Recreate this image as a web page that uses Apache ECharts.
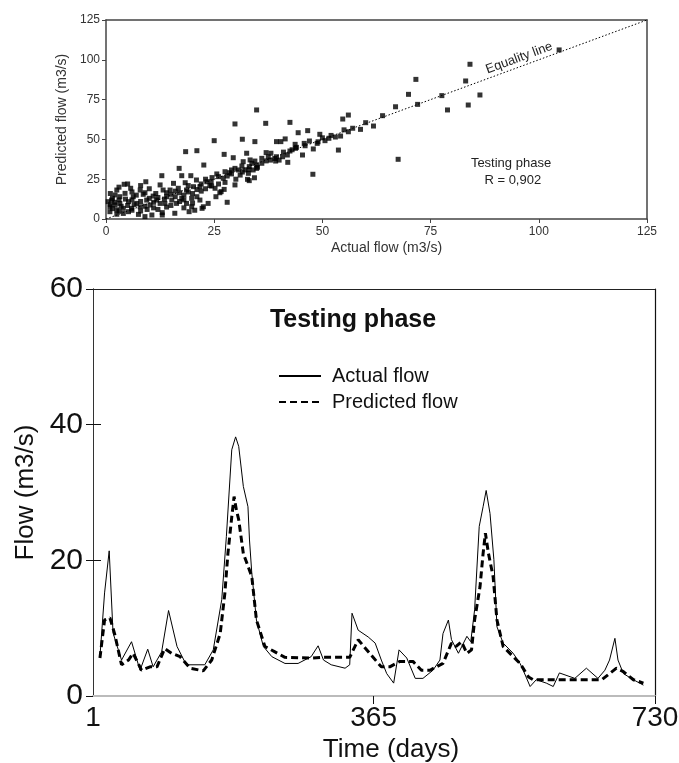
<!DOCTYPE html>
<html><head><meta charset="utf-8">
<script src="https://cdn.jsdelivr.net/npm/echarts@6/dist/echarts.min.js"></script>
<style>html,body{margin:0;padding:0;background:#fff}#c{width:679px;height:763px}</style>
</head><body><div id="c"></div>
<script>
// ---- Scatter: actual (x) vs predicted (y), m3/s ----
const scatterPoints = [
 [104.7,106.2],[84.1,97.2],[83.1,86.7],[71.6,87.7],[69.9,78.3],[77.6,77.5],[86.4,77.9],[72.0,72.0],
 [66.9,70.5],[83.7,71.6],[78.9,68.5],[63.9,64.9],[61.8,58.4],[58.8,56.3],[56.0,65.3],[54.7,62.8],
 [56.0,54.8],[54.2,52.1],[53.7,43.3],[67.5,37.5],[34.8,68.5],[29.8,59.7],[36.9,60.1],[42.5,60.7],
 [18.4,42.3],[21.0,42.9],[25.0,49.2],[31.5,50.1],[34.4,48.6],[39.4,48.6],[40.4,48.6],[41.4,50.3],
 [44.4,54.2],[46.6,55.5],[49.4,53.2],[51.5,50.7],[50.6,49.2],[48.8,47.5],[45.8,47.5],[43.7,46.9],
 [47.9,44.0],[47.8,28.1],[43.8,44.4],[42.5,42.7],[45.4,40.2],[41.9,40.2],[40.8,39.1],[39.4,39.1],
 [38.1,41.3],[37.0,41.7],[42.0,35.6],[39.2,36.4],[37.5,39.1],[36.0,38.1],[34.4,36.4],[33.3,37.1],
 [32.5,41.3],[27.3,40.6],[29.4,38.5],[31.7,36.0],[33.7,35.0],[34.8,33.9],[33.1,32.9],[31.4,33.3],
 [29.8,31.8],[30.6,30.8],[29.0,30.8],[32.1,30.8],[28.5,29.1],[27.5,29.7],[27.1,25.6],[26.0,26.6],
 [25.6,28.3],[29.0,28.3],[31.0,27.6],[32.9,28.7],[34.8,31.8],[34.0,30.8],[34.3,25.9],[32.7,24.9],
 [33.1,24.1],[29.8,21.4],[27.3,18.6],[25.2,19.3],[24.3,23.4],[26.6,17.2],[25.4,14.0],[28.0,10.5],
 [26.3,16.5],[23.6,9.8],[22.2,6.7],[22.6,33.9],[16.9,31.8],[12.9,27.2],[9.2,23.4],[4.2,21.8],
 [17.5,27.2],[19.6,27.2],[19.2,4.6],[15.9,3.6],[13.0,4.0],[10.6,2.5],[7.5,2.9],
 [23.3,23.4],[20.9,24.5],[21.7,20.3],[18.3,22.8],[15.6,22.4],[12.5,21.4],[7.9,18.2],[5.7,19.3],
 [2.5,18.2],[2.1,15.1],[3.2,14.0],[4.4,16.1],[6.3,14.0],[8.6,15.5],[10.9,14.4],[13.2,18.2],
 [14.8,18.2],[16.7,19.3],[18.6,18.2],[20.2,20.3],[24.4,20.7],[21.7,11.9],[19.8,13.0],[17.5,13.0],
 [15.2,11.9],[14.0,14.0],[11.7,11.9],[9.4,11.9],[7.1,9.8],[5.2,10.9],[3.2,9.8],[1.3,11.9],
 [0.9,7.7],[2.1,8.8],[4.0,6.7],[5.9,6.7],[7.9,7.7],[10.2,8.8],[12.5,9.8],[13.6,9.8],
 [16.3,9.8],[18.6,9.8],[19.8,7.7],[22.5,7.7],[0.9,4.6],[2.5,5.7],[5.2,4.6],[0.5,10.9],
 [1.5,13.0],[3.0,12.0],[4.5,12.5],[6.0,12.0],[7.0,15.0],[9.0,16.5],[10.0,13.0],[11.0,10.5],
 [12.0,13.5],[13.5,12.5],[15.0,15.5],[16.0,14.0],[17.0,16.5],[18.0,15.0],[19.0,17.0],[20.0,16.0],
 [21.0,18.5],[22.0,17.5],[23.0,19.0],[24.0,21.0],[1.0,9.0],[2.0,10.5],[3.5,8.0],[5.0,8.5],
 [6.5,9.0],[8.0,11.0],[9.0,8.0],[11.0,7.0],[12.0,6.0],[14.0,7.5],[15.0,8.5],[17.0,11.0],
 [18.0,12.0],[20.0,10.0],[21.0,14.0],[3.0,5.0],[4.0,3.5],[6.0,5.5],[8.0,5.0],[9.5,6.0],
 [1.5,6.5],[2.5,3.0],[14.0,16.5],[16.0,17.5],[11.5,16.0],[10.0,19.0],[6.0,17.0],[3.0,20.0],
 [5.0,22.0],[8.0,21.0],[1.0,16.0],[19.0,21.0],[22.0,22.0],[23.0,25.0],[24.5,26.0],[26.0,22.0],
 [27.5,23.0],[28.0,27.0],[30.0,25.0],[31.5,29.5],[33.0,31.0],[35.0,32.5],[36.0,35.0],[37.0,36.5],
 [38.0,37.0],[39.0,38.0],[40.0,37.0],[41.0,42.0],[43.0,43.5],[44.0,45.0],[46.0,46.0],[47.0,49.0],
 [49.0,48.5],[50.0,51.0],[52.0,52.5],[53.0,51.5],[55.0,56.0],[57.0,57.0],[60.0,60.5],[20.5,5.5],
 [18.0,7.0],[13.0,2.5],[9.0,1.5]
];
const equalityLine = [0, 125];
const scatterTicks = [0, 25, 50, 75, 100, 125];

// ---- Time series (testing phase) ----
const actualDays = [10,16,22,27,38,51,62,72,79,90,99,110,122,146,157,168,174,181,186,190,196,202,204,207,213,222,233,250,267,284,293,300,310,328,334,337,345,358,367,375,382,391,398,408,419,429,442,451,455,462,466,475,486,491,496,502,507,511,516,521,525,533,546,555,559,568,576,589,598,606,626,641,656,665,671,678,682,689,702,715];
const actualFlow = [5.8,15.2,21.4,9.3,5.3,8.0,3.8,6.9,4.3,6.5,12.6,7.3,4.6,4.6,6.8,14.2,23.5,36.3,38.2,36.8,30.9,27.9,23.0,18.1,11.2,7.3,5.8,4.8,4.8,5.8,7.4,5.3,4.6,4.1,4.6,12.2,9.7,8.7,7.8,5.3,3.3,1.9,6.8,5.6,2.6,2.6,3.8,5.3,9.2,11.2,8.3,6.3,8.8,8.0,12.7,25.0,27.9,30.3,26.9,20.1,10.2,7.8,6.3,4.8,3.8,1.4,2.4,1.9,1.4,3.4,2.6,4.1,2.6,3.8,5.3,8.5,5.3,3.3,2.4,1.6];
const predictedDays = [10,16,23,29,38,47,53,64,75,84,94,103,114,127,144,155,166,172,176,181,184,187,190,196,207,213,224,237,250,284,297,334,345,362,375,386,399,416,427,438,455,466,472,479,486,492,496,503,507,510,514,520,525,533,546,555,566,572,598,611,661,671,680,689,702,715];
const predictedFlow = [5.6,11.2,11.5,9.2,4.6,5.3,6.3,3.8,4.3,4.3,7.0,6.3,5.8,4.1,3.7,5.3,9.2,15.1,21.0,26.4,29.4,27.4,26.0,21.0,17.6,11.2,7.3,6.5,5.7,5.6,5.7,5.7,8.3,6.0,4.3,4.3,5.1,5.1,3.8,3.8,4.8,7.8,7.3,8.0,6.3,6.8,11.2,16.1,21.0,24.0,21.0,17.6,11.2,7.3,5.8,4.8,2.8,2.4,2.4,2.4,2.4,3.3,4.1,3.6,2.4,1.9];
const timeTicks = [1, 365, 730];
const flowRange = [0, 60];
const flowInnerTicks = [20, 40];

const FONT = '"Liberation Sans", Arial, Helvetica, sans-serif';
const chart = echarts.init(document.getElementById('c'), null, {renderer: 'canvas'});
const frame = (c, w) => ({show: true, onZero: false, lineStyle: {color: c, width: w}});
const bare = {axisTick: {show: false}, axisLabel: {show: false}, splitLine: {show: false}};

chart.setOption({
  animation: false,
  backgroundColor: '#fff',
  textStyle: {fontFamily: FONT},
  title: [
    {text: 'Testing phase\n R = 0,902', left: 511, top: 155, padding: 0, textAlign: 'center',
     textStyle: {fontSize: 13, fontWeight: 'normal', color: '#222', lineHeight: 17, fontFamily: FONT}},
    {text: 'Testing phase', left: 353, top: 308, padding: 0, textAlign: 'center',
     textStyle: {fontSize: 25, fontWeight: 'bold', color: '#111', fontFamily: FONT}}
  ],
  legend: {
    data: ['Actual flow', 'Predicted flow'], orient: 'vertical', left: 278, top: 366, padding: 0,
    itemWidth: 42, itemHeight: 20, itemGap: 6,
    itemStyle: {opacity: 0, color: 'transparent', borderWidth: 0},
    textStyle: {fontSize: 20, color: '#111', fontFamily: FONT, padding: [0, 0, 0, 6]}
  },
  grid: [
    {left: 106, top: 20, width: 541, height: 199, outerBoundsMode: 'none'},
    {left: 93, top: 289, width: 562, height: 407, outerBoundsMode: 'none'},
    {left: 93, top: 289, width: 562, height: 407, outerBoundsMode: 'none'}
  ],
  xAxis: [
    {gridIndex: 0, type: 'value', min: scatterTicks[0], max: scatterTicks[5], interval: 25,
     axisLine: frame('#444', 1.5), axisTick: {show: true, length: 4, lineStyle: {color: '#444'}},
     axisLabel: {fontSize: 12, color: '#333', margin: 7}, splitLine: {show: false},
     name: 'Actual flow (m3/s)', nameLocation: 'middle', nameGap: 22,
     nameTextStyle: {fontSize: 14, color: '#333', padding: [0, 0, 0, 20]}},
    Object.assign({gridIndex: 0, type: 'value', position: 'top', min: 0, max: 125,
     axisLine: frame('#444', 1.5)}, bare),
    {gridIndex: 1, type: 'value', min: timeTicks[0], max: timeTicks[2],
     axisLine: frame('#bbb', 2), axisTick: {show: true, customValues: timeTicks.slice(1), length: 8, lineStyle: {color: '#111'}},
     axisLabel: {customValues: timeTicks, fontSize: 28, color: '#111', margin: 8}, splitLine: {show: false},
     name: 'Time (days)', nameLocation: 'middle', nameGap: 40,
     nameTextStyle: {fontSize: 26, color: '#111', padding: [0, 0, 0, 34]}},
    Object.assign({gridIndex: 1, type: 'value', position: 'top', min: 1, max: 730,
     axisLine: frame('#222', 1.2)}, bare),
    Object.assign({gridIndex: 2, type: 'value', min: timeTicks[0], max: timeTicks[2],
     axisLine: {show: true, onZero: false, lineStyle: {color: 'rgba(0,0,0,0)', width: 0}}}, bare)
  ],
  yAxis: [
    {gridIndex: 0, type: 'value', min: 0, max: 125, interval: 25,
     axisLine: frame('#444', 1.5), axisTick: {show: true, length: 4, lineStyle: {color: '#444'}},
     axisLabel: {fontSize: 12, color: '#333', margin: 6}, splitLine: {show: false},
     name: 'Predicted flow (m3/s)', nameLocation: 'middle', nameGap: 34,
     nameTextStyle: {fontSize: 14, color: '#333'}},
    Object.assign({gridIndex: 0, type: 'value', position: 'right', min: 0, max: 125,
     axisLine: frame('#444', 1.5)}, bare),
    {gridIndex: 1, type: 'value', min: flowRange[0], max: flowRange[1], interval: 20,
     axisLine: frame('#333', 1), axisTick: {show: true, length: 7, lineStyle: {color: '#111'}},
     axisLabel: {fontSize: 30, color: '#111', margin: 10}, splitLine: {show: false},
     name: 'Flow (m3/s)', nameLocation: 'middle', nameGap: 52,
     nameTextStyle: {fontSize: 26, color: '#111'}},
    Object.assign({gridIndex: 1, type: 'value', position: 'right', min: 0, max: 60,
     axisLine: frame('#111', 1.2)}, bare),
    {gridIndex: 2, type: 'value', position: 'left', min: flowRange[0], max: flowRange[1], interval: 20,
     axisLine: {show: true, onZero: false, lineStyle: {color: '#333', width: 1}},
     axisTick: {show: true, inside: true, length: 8, customValues: flowInnerTicks, lineStyle: {color: '#111'}},
     axisLabel: {show: true, color: 'rgba(0,0,0,0)', fontSize: 10, customValues: flowInnerTicks}, splitLine: {show: false}}
  ],
  series: [
    {name: 'Observations', type: 'scatter', xAxisIndex: 0, yAxisIndex: 0, data: scatterPoints,
     symbol: 'rect', symbolSize: 5, itemStyle: {color: '#000'}, silent: true,
     markLine: {silent: true, symbol: 'none', animation: false,
       lineStyle: {type: [1.5, 2], color: '#000', width: 1},
       label: {show: true, formatter: 'Equality line', position: 'insideEndTop', distance: [98, 2],
               fontSize: 13, color: '#222', fontFamily: FONT},
       data: [[{coord: [equalityLine[0], equalityLine[0]]}, {coord: [equalityLine[1], equalityLine[1]]}]]}},
    {name: 'Actual flow', type: 'line', xAxisIndex: 2, yAxisIndex: 2, symbol: 'none',
     data: actualDays.map((d, i) => [d, actualFlow[i]]),
     lineStyle: {color: '#000', width: 1}, itemStyle: {color: '#000'}},
    {name: 'Predicted flow', type: 'line', xAxisIndex: 4, yAxisIndex: 4, symbol: 'none',
     data: predictedDays.map((d, i) => [d, predictedFlow[i]]),
     lineStyle: {color: '#000', width: 3, type: [7, 4]}, itemStyle: {color: '#000'}}
  ]
});
</script></body></html>
